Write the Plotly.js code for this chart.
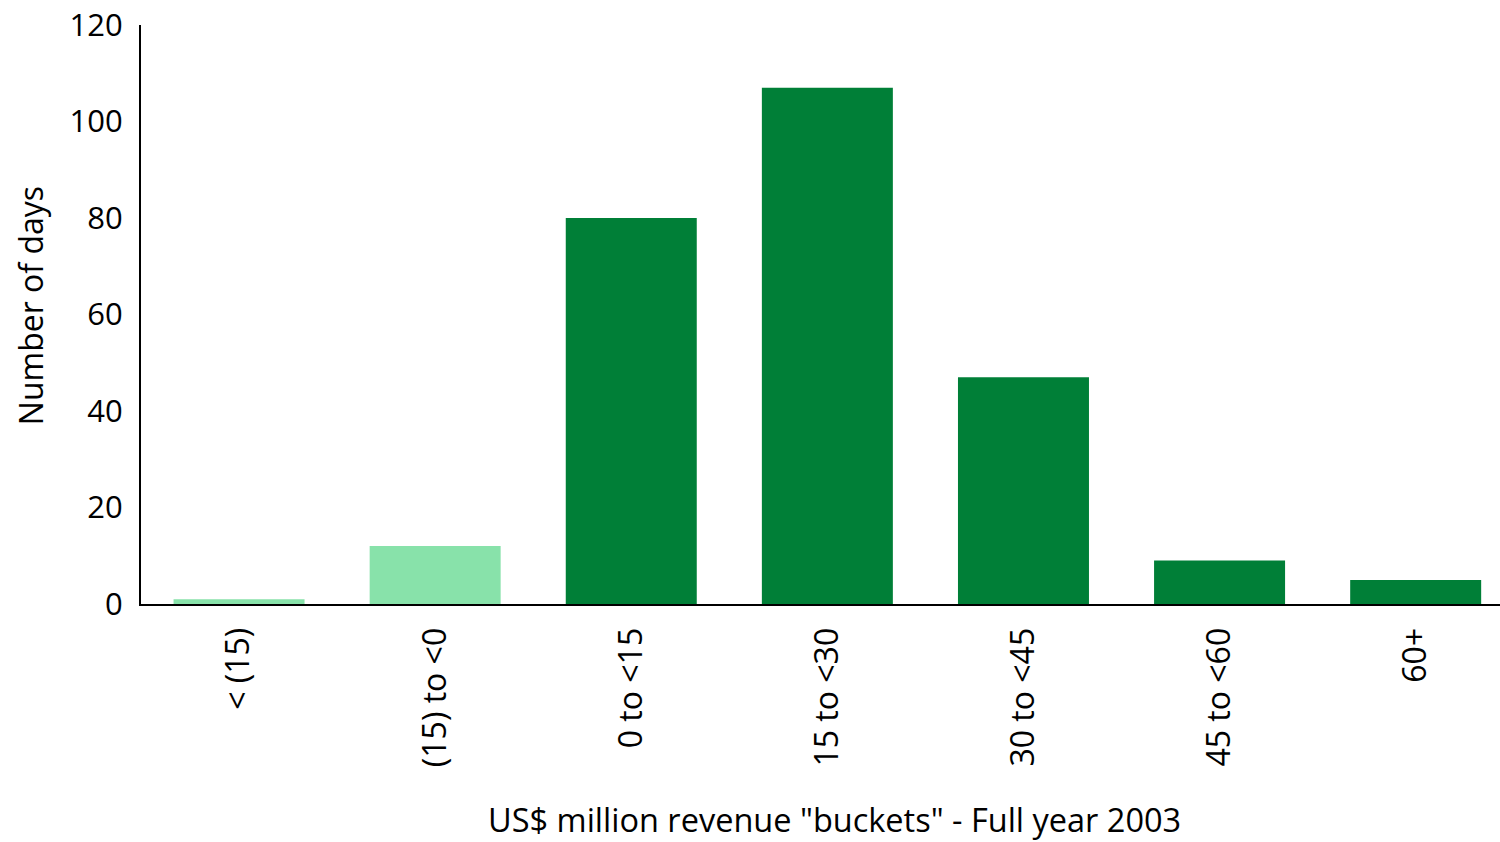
<!DOCTYPE html>
<html>
<head>
<meta charset="utf-8">
<script src="https://cdn.plot.ly/plotly-3.0.1.min.js"></script>
<style>html,body{margin:0;padding:0;background:#fff;}#chart{width:1500px;height:842px;}</style>
</head>
<body>
<div id="chart"></div>
<script>
const categories = ["< (15)", "(15) to <0", "0 to <15", "15 to <30", "30 to <45", "45 to <60", "60+"];
const days = [1, 12, 80, 107, 47, 9, 5];
const barColors = ["#88E2AA", "#88E2AA", "#007F37", "#007F37", "#007F37", "#007F37", "#007F37"];
const yTicks = [0, 20, 40, 60, 80, 100, 120];
const xTitle = 'US$ million revenue "buckets" - Full year 2003';
const yTitle = "Number of days";

const font = "Open Sans, Noto Sans, sans-serif";
Plotly.newPlot("chart", [{
  type: "bar",
  x: categories,
  y: days,
  marker: {color: barColors, line: {width: 0}},
  hoverinfo: "x+y"
}], {
  width: 1500, height: 842,
  margin: {l: 141, r: 0, t: 25, b: 238},
  paper_bgcolor: "#fff", plot_bgcolor: "#fff",
  bargap: 0.332,
  showlegend: false,
  font: {family: font, color: "#000", size: 31},
  xaxis: {
    type: "category",
    range: [-0.5, 6.43],
    tickangle: -90,
    showline: true, linecolor: "#000", linewidth: 2,
    ticks: "", showgrid: false, zeroline: false,
    ticklabelstandoff: 9,
    tickfont: {size: 32}
  },
  yaxis: {
    range: [0, 120],
    tickvals: yTicks,
    ticktext: yTicks.map(String),
    showline: true, linecolor: "#000", linewidth: 2,
    ticks: "", showgrid: false, zeroline: false,
    ticklabelstandoff: 10,
    tickfont: {size: 31}
  },
  annotations: [
    {text: xTitle, xref: "paper", yref: "paper", x: 0.51, y: -0.372,
     xanchor: "center", yanchor: "middle", showarrow: false, borderpad: 0, font: {size: 32.5}},
    {text: yTitle, xref: "paper", yref: "paper", x: -0.0817, y: 0.516, textangle: -90,
     xanchor: "center", yanchor: "middle", showarrow: false, font: {size: 32}}
  ]
}, {displayModeBar: false, staticPlot: true});
</script>
</body>
</html>
